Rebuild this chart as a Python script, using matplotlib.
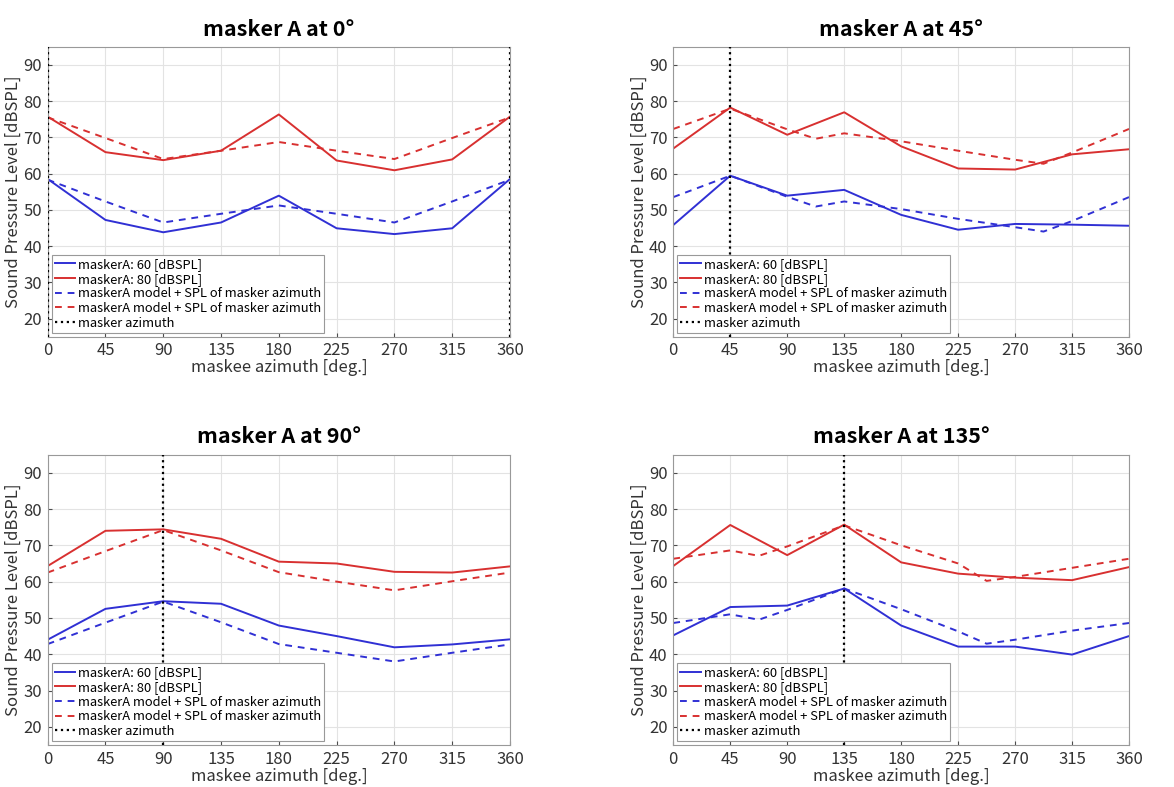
import numpy as np
import matplotlib
matplotlib.use("Agg")
import matplotlib.pyplot as plt

plt.rcParams['font.family'] = ['Noto Sans CJK JP', 'DejaVu Sans']

# maskee azimuth (deg) for the measured curves
azimuth = [0, 45, 90, 135, 180, 225, 270, 315, 360]
masker_positions = [0, 45, 90, 135]

# measured SPL, masker at 60 dBSPL (blue) and 80 dBSPL (red)
meas60 = [
    [58.5, 47.2, 43.8, 46.5, 53.9, 44.9, 43.3, 44.9, 58.5],
    [45.8, 59.4, 53.9, 55.5, 48.6, 44.5, 46.1, 45.9, 45.6],
    [44.0, 52.5, 54.6, 53.9, 47.9, 45.0, 41.9, 42.7, 44.1],
    [45.2, 53.0, 53.4, 58.1, 47.9, 42.1, 42.1, 39.9, 45.0],
]
meas80 = [
    [75.7, 65.9, 63.7, 66.3, 76.3, 63.6, 60.9, 63.9, 75.7],
    [66.9, 78.2, 70.7, 76.9, 67.5, 61.4, 61.1, 65.3, 66.7],
    [64.3, 74.0, 74.4, 71.8, 65.5, 65.0, 62.7, 62.5, 64.2],
    [64.3, 75.6, 67.3, 75.7, 65.3, 62.2, 61.1, 60.4, 64.0],
]

# model curves (own azimuth grid per panel)
model_az = [
    [0, 45, 90, 135, 180, 225, 270, 315, 360],
    [0, 45, 90, 112.5, 135, 180, 225, 270, 292.5, 315, 360],
    [0, 45, 90, 135, 180, 225, 270, 315, 360],
    [0, 45, 67.5, 90, 135, 180, 225, 247.5, 270, 315, 360],
]
model60 = [
    [58.3, 52.3, 46.5, 48.9, 51.2, 48.9, 46.5, 52.3, 58.3],
    [53.5, 59.4, 53.6, 50.9, 52.3, 50.2, 47.5, 45.2, 44.0, 46.9, 53.5],
    [42.8, 48.7, 54.5, 48.8, 42.8, 40.4, 38.0, 40.4, 42.7],
    [48.6, 51.0, 49.5, 52.2, 58.1, 52.4, 46.3, 42.9, 44.0, 46.5, 48.6],
]
model80 = [
    [75.5, 69.8, 64.0, 66.3, 68.7, 66.3, 64.0, 69.8, 75.5],
    [72.3, 77.9, 72.2, 69.6, 71.1, 68.9, 66.3, 63.8, 62.7, 65.8, 72.3],
    [62.5, 68.4, 74.2, 68.6, 62.6, 60.0, 57.6, 60.1, 62.5],
    [66.3, 68.6, 67.1, 69.7, 75.5, 70.0, 65.0, 60.2, 61.3, 63.8, 66.3],
]

blue = '#3030d4'
red = '#d83030'
axcol = '#4d4d4d'

fig = plt.figure(figsize=(11.74, 7.87), dpi=100)
positions = [
    [0.0406, 0.5722, 0.3938, 0.3685],
    [0.5735, 0.5722, 0.3882, 0.3685],
    [0.0406, 0.0534, 0.3938, 0.3690],
    [0.5735, 0.0534, 0.3882, 0.3690],
]

for i, pos in enumerate(positions):
    ax = fig.add_axes(pos)
    m = masker_positions[i]
    ax.plot(azimuth, meas60[i], color=blue, lw=1.4, label='maskerA: 60 [dBSPL]')
    ax.plot(azimuth, meas80[i], color=red, lw=1.4, label='maskerA: 80 [dBSPL]')
    ax.plot(model_az[i], model60[i], color=blue, lw=1.4, ls=(0, (3.5, 3)),
            label='maskerA model + SPL of masker azimuth')
    ax.plot(model_az[i], model80[i], color=red, lw=1.4, ls=(0, (3.5, 3)),
            label='maskerA model + SPL of masker azimuth')
    ax.axvline(m, color='black', lw=1.6, ls=':', label='masker azimuth', zorder=5)
    if m == 0:
        ax.axvline(360, color='black', lw=1.6, ls=':', zorder=5)

    ax.set_xlim(0, 360)
    ax.set_ylim(15, 95)
    ax.set_xticks(azimuth)
    ax.set_yticks(range(20, 100, 10))
    ax.grid(True, color='#e3e3e3', lw=0.8)
    ax.set_axisbelow(True)
    ax.tick_params(direction='in', length=3, labelsize=12, colors=axcol,
                   labelcolor='#333333', pad=4)
    for s in ax.spines.values():
        s.set_color('#999999')
        s.set_linewidth(0.8)
    ax.set_xlabel('maskee azimuth [deg.]', fontsize=12, color='#333333', labelpad=0)
    ax.set_ylabel('Sound Pressure Level [dBSPL]', fontsize=12, color='#333333', labelpad=1)
    ax.set_title('masker A at %d°' % m, fontsize=15.5, fontweight='bold', pad=8)
    leg = ax.legend(loc='lower left', fontsize=9.3, handlelength=1.6, handletextpad=0.2,
                    borderpad=0.25, labelspacing=0.13, borderaxespad=0.3,
                    fancybox=False, framealpha=1, edgecolor='#999999')
    leg.get_frame().set_linewidth(0.8)

fig.savefig('out.png', dpi=100)
